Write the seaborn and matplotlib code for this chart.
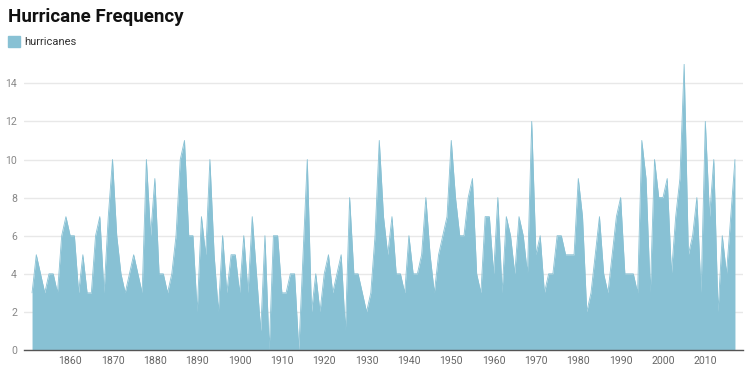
import seaborn as sns
import matplotlib.pyplot as plt
import matplotlib.patches as mpatches
import pandas as pd

# Atlantic hurricanes per year, 1851-2017
years = list(range(1851, 2018))
hurricanes = [
    3, 5, 4, 3, 4, 4, 3, 6, 7,                 # 1851-1859
    6, 6, 3, 5, 3, 3, 6, 7, 3, 7,              # 1860s
    10, 6, 4, 3, 4, 5, 4, 3, 10, 6,            # 1870s
    9, 4, 4, 3, 4, 6, 10, 11, 6, 6,            # 1880s
    2, 7, 5, 10, 5, 2, 6, 3, 5, 5,             # 1890s
    3, 6, 3, 7, 4, 1, 6, 0, 6, 6,              # 1900s
    3, 3, 4, 4, 0, 5, 10, 2, 4, 2,             # 1910s
    4, 5, 3, 4, 5, 1, 8, 4, 4, 3,              # 1920s
    2, 3, 6, 11, 7, 5, 7, 4, 4, 3,             # 1930s
    6, 4, 4, 5, 8, 5, 3, 5, 6, 7,              # 1940s
    11, 8, 6, 6, 8, 9, 4, 3, 7, 7,             # 1950s
    4, 8, 3, 7, 6, 4, 7, 6, 4, 12,             # 1960s
    5, 6, 3, 4, 4, 6, 6, 5, 5, 5,              # 1970s
    9, 7, 2, 3, 5, 7, 4, 3, 5, 7,              # 1980s
    8, 4, 4, 4, 3, 11, 9, 3, 10, 8,            # 1990s
    8, 9, 4, 7, 9, 15, 5, 6, 8, 3,             # 2000s
    12, 7, 10, 2, 6, 4, 7, 10,                 # 2010-2017
]
x_ticks = [1860, 1870, 1880, 1890, 1900, 1910, 1920, 1930, 1940,
           1950, 1960, 1970, 1980, 1990, 2000, 2010]
y_ticks = [0, 2, 4, 6, 8, 10, 12, 14]

df = pd.DataFrame({"year": years, "hurricanes": hurricanes})

sns.set_style("white")
plt.rcParams["font.family"] = ["Roboto", "DejaVu Sans"]

W, H = 748, 381
fig = plt.figure(figsize=(W / 100, H / 100), dpi=100)
# axes placed in pixel terms: left 24, right 743, bottom y=350, top ~64
ax = fig.add_axes([24 / W, 31 / H, 719 / W, 285.75 / H])

color = "#88c1d4"
ax.fill_between(df["year"], df["hurricanes"], 0, color=color, linewidth=0)
sns.lineplot(data=df, x="year", y="hurricanes", ax=ax, color=color, linewidth=0.6)

ax.set_xlim(1849.1, 2018.9)
ax.set_ylim(0, 15)
ax.set_xticks(x_ticks)
ax.set_yticks(y_ticks)
ax.set_xlabel("")
ax.set_ylabel("")
ax.grid(axis="y", color="#e8e8e8", linewidth=1)
ax.set_axisbelow(True)
for side in ["top", "right", "left"]:
    ax.spines[side].set_visible(False)
ax.spines["bottom"].set_color("#555555")
ax.spines["bottom"].set_linewidth(1)
ax.tick_params(axis="x", length=0, pad=4, labelsize=7.6, labelcolor="#666666")
ax.tick_params(axis="y", length=0, pad=5, labelsize=7.6, labelcolor="#888888")

fig.text(8 / W, 1 - 17 / H, "Hurricane Frequency", fontsize=13.5, fontweight="bold",
         color="#111111", va="center", ha="left")
fig.patches.append(mpatches.Rectangle((8 / W, 1 - 47 / H), 12 / W, 11 / H,
                                      transform=fig.transFigure, color=color))
fig.text(24 / W, 1 - 42 / H, "hurricanes", fontsize=8, color="#333333",
         va="center", ha="left")

plt.savefig("out.png", dpi=100)
plt.close()
